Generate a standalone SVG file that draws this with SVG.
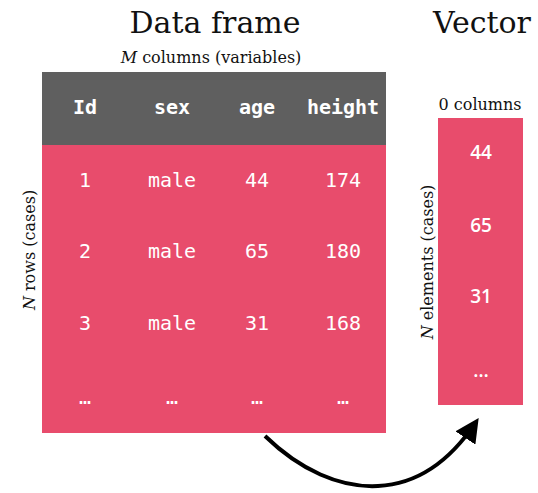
<svg xmlns="http://www.w3.org/2000/svg" width="538" height="493" viewBox="0 0 538 493">
  <style>
    .title { font-family: "DejaVu Serif", "Liberation Serif", serif; font-size: 30px; fill: #111; text-anchor: middle; }
    .sub { font-family: "DejaVu Serif", "Liberation Serif", serif; font-size: 16px; fill: #111; text-anchor: middle; }
    .hdr { font-family: "DejaVu Sans Mono", "Liberation Mono", monospace; font-size: 20px; font-weight: bold; fill: #fff; text-anchor: middle; }
    .cell { font-family: "DejaVu Sans Mono", "Liberation Mono", monospace; font-size: 20px; fill: #fff; text-anchor: middle; }
    .vec { font-family: "Open Sans", "DejaVu Sans", sans-serif; font-size: 19px; font-weight: 600; fill: #fff; text-anchor: middle; }
    .head { fill: #5f5f5f; }
    .body { fill: #e84c6c; }
  </style>
  <defs>
    <marker id="arrowhead" viewBox="0 0 10 10" refX="8" refY="5" markerWidth="6" markerHeight="6" orient="auto-start-reverse" markerUnits="strokeWidth">
      <path d="M0,0 L10,5 L0,10 z" fill="#000"/>
    </marker>
  </defs>

  <!-- titles -->
  <text class="title" x="215" y="33">Data frame</text>
  <text class="title" x="482" y="33">Vector</text>

  <!-- data frame -->
  <g id="data-frame">
    <text class="sub" x="211" y="63"><tspan font-style="italic">M</tspan> columns (variables)</text>
    <rect class="head" x="42" y="72" width="344" height="73"/>
    <rect class="body" x="42" y="145" width="344" height="288"/>
    <text class="hdr" x="85" y="114">Id</text>
    <text class="hdr" x="172" y="114">sex</text>
    <text class="hdr" x="257" y="114">age</text>
    <text class="hdr" x="343" y="114">height</text>

    <text class="cell" x="85" y="187">1</text>
    <text class="cell" x="172" y="187">male</text>
    <text class="cell" x="257" y="187">44</text>
    <text class="cell" x="343" y="187">174</text>

    <text class="cell" x="85" y="258">2</text>
    <text class="cell" x="172" y="258">male</text>
    <text class="cell" x="257" y="258">65</text>
    <text class="cell" x="343" y="258">180</text>

    <text class="cell" x="85" y="330">3</text>
    <text class="cell" x="172" y="330">male</text>
    <text class="cell" x="257" y="330">31</text>
    <text class="cell" x="343" y="330">168</text>

    <text class="cell" x="85" y="404">…</text>
    <text class="cell" x="172" y="404">…</text>
    <text class="cell" x="257" y="404">…</text>
    <text class="cell" x="343" y="404">…</text>

    <text class="sub" transform="translate(35,250) rotate(-90)"><tspan font-style="italic">N</tspan> rows (cases)</text>
  </g>

  <!-- vector -->
  <g id="vector">
    <text class="sub" x="480" y="110">0 columns</text>
    <rect class="body" x="438" y="118" width="85" height="287"/>
    <text class="vec" x="481" y="159">44</text>
    <text class="vec" x="481" y="232">65</text>
    <text class="vec" x="481" y="303">31</text>
    <text class="vec" x="481" y="377">…</text>
    <text class="sub" transform="translate(433,262) rotate(-90)"><tspan font-style="italic">N</tspan> elements (cases)</text>
  </g>

  <!-- connectors -->
  <g id="connectors">
    <path d="M265,436 C300,470 340,488 378,486 C420,484 452,458 476,422" fill="none" stroke="#000" stroke-width="4" marker-end="url(#arrowhead)"/>
  </g>
</svg>
